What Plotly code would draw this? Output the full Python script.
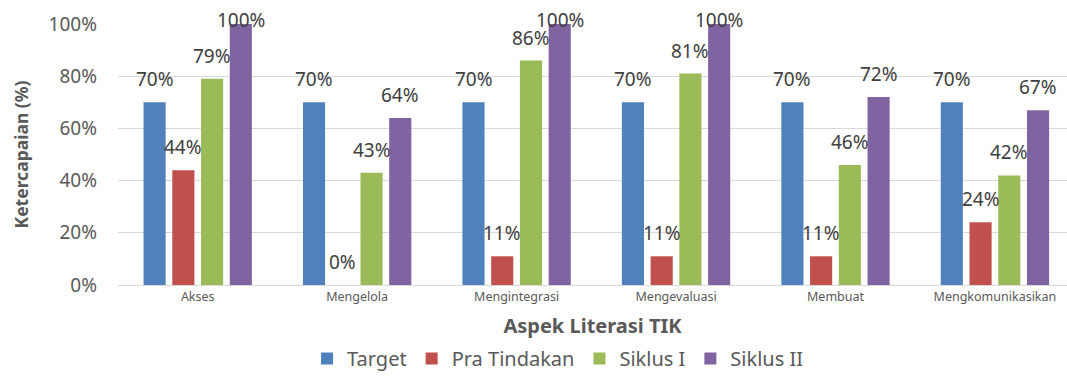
import plotly.graph_objects as go

categories = ["Akses", "Mengelola", "Mengintegrasi", "Mengevaluasi", "Membuat", "Mengkomunikasikan"]
tick_labels = ["Akses", "Mengelola", "Mengintegrasi", "Mengevaluasi", "Membuat", "Mengkomunikasikan"]
y_ticks = [0, 20, 40, 60, 80, 100]
y_tick_labels = ["0%", "20%", "40%", "60%", "80%", "100%"]

target = [70, 70, 70, 70, 70, 70]
pra_tindakan = [44, 0, 11, 11, 11, 24]
siklus_1 = [79, 43, 86, 81, 46, 42]
siklus_2 = [100, 64, 100, 100, 72, 67]

series_names = ["Target", "Pra Tindakan", "Siklus I", "Siklus II"]
series_values = [target, pra_tindakan, siklus_1, siklus_2]
series_colors = ["#4F81BD", "#C0504D", "#9BBB59", "#8064A2"]

FONT = "Noto Sans, Open Sans, sans-serif"
W, H = 1067, 378
M_L, M_R, M_T, M_B = 118, 0, 24, 93
BARGAP = 0.279
BARGROUPGAP = 0.23
Y_MAX = 100

fig = go.Figure()
for name, values, color in zip(series_names, series_values, series_colors):
    fig.add_trace(go.Bar(
        name=name,
        x=categories,
        y=values,
        marker=dict(color=color, line=dict(width=0)),
        hoverinfo="x+y+name",
    ))

# value labels: centred over each bar, lifted above its top and kept inside the chart
plot_h = H - M_T - M_B
px_per_unit = plot_h / Y_MAX
n = len(series_names)
slot = (1 - BARGAP) / n
for i, values in enumerate(series_values):
    offset = -(1 - BARGAP) / 2 + slot * (i + 0.5)
    for j, v in enumerate(values):
        bar_top_px = M_T + (Y_MAX - v) * px_per_unit
        label_center_px = max(bar_top_px - 23, 20)
        fig.add_annotation(
            x=j + offset, y=v, xref="x", yref="y",
            text=f"{v}%", showarrow=False,
            xanchor="center", yanchor="middle",
            yshift=bar_top_px - label_center_px,
            font=dict(family=FONT, size=19, color="#404040"),
        )

fig.update_layout(
    width=W,
    height=H,
    barmode="group",
    bargap=BARGAP,
    bargroupgap=BARGROUPGAP,
    paper_bgcolor="white",
    plot_bgcolor="white",
    margin=dict(l=M_L, r=M_R, t=M_T, b=M_B),
    font=dict(family=FONT, color="#595959"),
    showlegend=True,
    legend=dict(
        orientation="h",
        xref="container", yref="container",
        x=0.523, xanchor="center",
        y=-0.016, yanchor="bottom",
        font=dict(family=FONT, size=20, color="#595959"),
        itemwidth=30,
        traceorder="normal",
    ),
)

fig.update_xaxes(
    range=[-0.5, 5.452],
    tickvals=categories,
    ticktext=tick_labels,
    tickfont=dict(family=FONT, size=12.5, color="#595959"),
    showline=True,
    linecolor="#D9D9D9",
    linewidth=1,
    ticks="",
    automargin=False,
    title=dict(text="<b>Aspek Literasi TIK</b>",
               font=dict(family=FONT, size=20, color="#595959"),
               standoff=18),
)

fig.update_yaxes(
    range=[0, Y_MAX],
    tickvals=y_ticks,
    ticktext=y_tick_labels,
    tickfont=dict(family=FONT, size=19, color="#595959"),
    showgrid=True,
    gridcolor="#D9D9D9",
    gridwidth=1,
    zeroline=False,
    ticks="",
    ticklabelstandoff=20,
    automargin=False,
    title=dict(text="<b>Ketercapaian (%)</b>",
               font=dict(family=FONT, size=17.5, color="#595959"),
               standoff=15),
)

fig.write_html("out.html")
